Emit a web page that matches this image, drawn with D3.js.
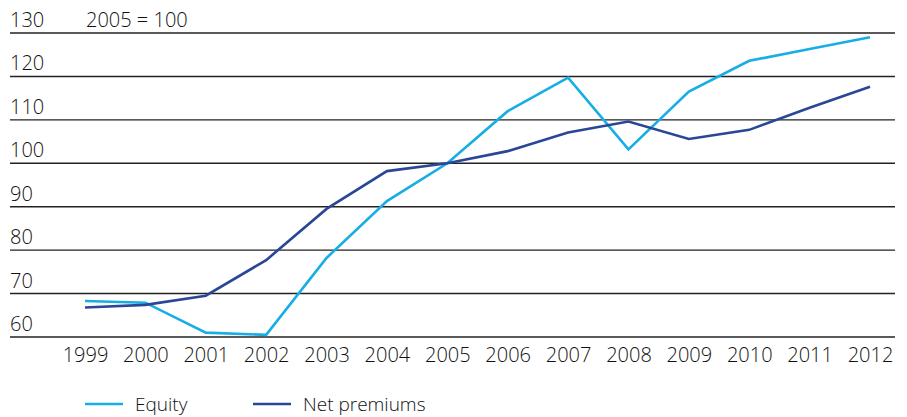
<!DOCTYPE html>
<html lang="en">
<head>
    <meta charset="UTF-8">
    <script src="https://d3js.org/d3.v7.min.js"></script>
    <style>
        body { margin: 0; background: #fff; }
        text { font-family: "Open Sans", "Liberation Sans", sans-serif; font-weight: 300; fill: #111; }
    </style>
</head>
<body>
    <div id="my_chart"></div>
    <script>
        var years = [1999, 2000, 2001, 2002, 2003, 2004, 2005, 2006, 2007, 2008, 2009, 2010, 2011, 2012];
        var equity = [68.3, 67.9, 61.0, 60.5, 78.2, 91.3, 100, 112.0, 119.7, 103.2, 116.5, 123.6, 126.3, 129.0];
        var netPremiums = [66.8, 67.4, 69.5, 77.7, 89.5, 98.2, 100, 102.8, 107.1, 109.6, 105.6, 107.7, 112.8, 117.6];
        var yTicks = [60, 70, 80, 90, 100, 110, 120, 130];
        var seriesNames = ["Equity", "Net premiums"];
        var colors = ["#16aee5", "#2a4797"];

        var width = 907, height = 417;

        var svg = d3.select("#my_chart")
            .append("svg")
            .attr("width", width)
            .attr("height", height);

        var x = d3.scalePoint()
            .domain(years)
            .range([85, 870]);

        var y = d3.scaleLinear()
            .domain([60, 130])
            .range([337, 33]);

        // gridlines + y labels
        var grid = svg.append("g");
        grid.selectAll("line")
            .data(yTicks)
            .enter()
            .append("line")
            .attr("x1", 10)
            .attr("x2", 895)
            .attr("y1", d => y(d))
            .attr("y2", d => y(d))
            .attr("stroke", "#222")
            .attr("stroke-width", 1.4);

        grid.selectAll("text")
            .data(yTicks)
            .enter()
            .append("text")
            .attr("x", 10)
            .attr("y", d => y(d) - 6)
            .attr("font-size", 20)
            .text(d => d);

        svg.append("text")
            .attr("x", 86)
            .attr("y", y(130) - 6)
            .attr("font-size", 20)
            .text("2005 = 100");

        // x axis labels
        var xAxis = svg.append("g")
            .attr("transform", "translate(0," + 337 + ")")
            .call(d3.axisBottom(x).tickSize(0).tickPadding(8));
        xAxis.select(".domain").remove();
        xAxis.selectAll("text")
            .attr("font-size", 20)
            .attr("fill", "#111")
            .attr("dy", "0.85em");

        // lines
        var line = d3.line()
            .x((d, i) => x(years[i]))
            .y(d => y(d));

        [equity, netPremiums].forEach(function (s, i) {
            svg.append("path")
                .datum(s)
                .attr("d", line)
                .attr("fill", "none")
                .attr("stroke", colors[i])
                .attr("stroke-width", 2.6)
                .attr("stroke-linejoin", "miter");
        });

        // legend
        var legendX = [85, 253];
        var legend = svg.selectAll(".legend")
            .data(seriesNames)
            .enter()
            .append("g")
            .attr("transform", (d, i) => "translate(" + legendX[i] + ",404)");
        legend.append("line")
            .attr("x1", 0)
            .attr("x2", 38)
            .attr("stroke", (d, i) => colors[i])
            .attr("stroke-width", 2.6);
        legend.append("text")
            .attr("x", 50)
            .attr("y", 7)
            .attr("font-size", 19)
            .text(d => d);
    </script>
</body>
</html>
